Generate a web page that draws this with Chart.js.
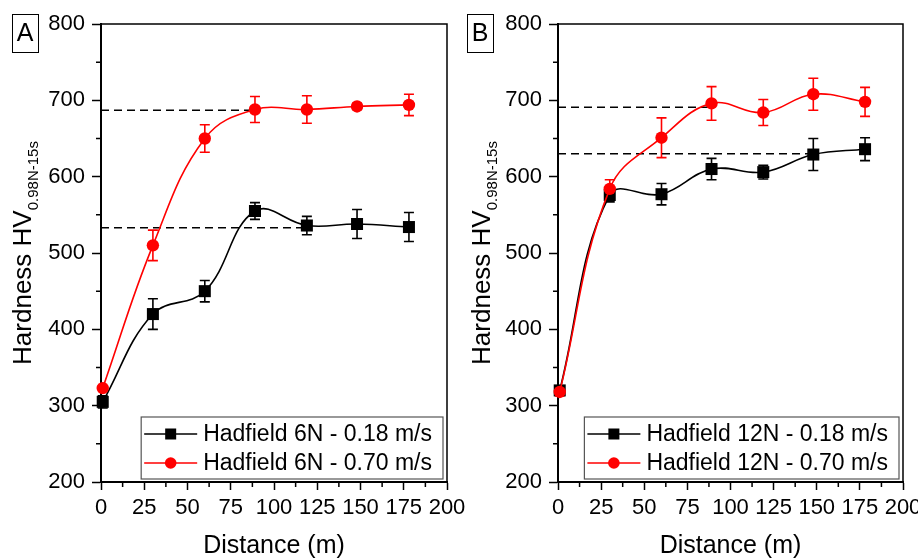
<!DOCTYPE html>
<html>
<head>
<meta charset="utf-8">
<script src="https://cdn.jsdelivr.net/npm/chart.js@4.4.1/dist/chart.umd.min.js"></script>
<style>
  html, body { margin:0; padding:0; background:#fff; overflow:hidden; }
  body { width:918px; height:560px; position:relative; }
</style>
</head>
<body>
<div id="wA" style="position:absolute;left:0;top:0;width:482px;height:560px;"><canvas id="cA"></canvas></div>
<div id="wB" style="position:absolute;left:459px;top:0;width:478px;height:560px;"><canvas id="cB"></canvas></div>
<script>
// ---------- DATA ----------
const distances = [1, 30, 60, 89, 119, 148, 178];

const labelsA = ["Hadfield 6N - 0.18 m/s", "Hadfield 6N - 0.70 m/s"];
const hardA_slow = [305, 420, 450, 555, 536, 538, 534];
const errA_slow  = [8, 20, 14, 11, 12, 19, 19];
const hardA_fast = [323, 510, 650, 688, 688, 692, 694];
const errA_fast  = [3, 20, 18, 17, 18, 4, 14];
const refA_levels = [533, 687];   // dashed lines: slow, fast
const refA_ends   = [118, 89];

const labelsB = ["Hadfield 12N - 0.18 m/s", "Hadfield 12N - 0.70 m/s"];
const hardB_slow = [320, 576, 577, 610, 606, 629, 636];
const errB_slow  = [5, 9, 14, 14, 9, 21, 15];
const hardB_fast = [318, 584, 651, 696, 684, 708, 698];
const errB_fast  = [5, 12, 26, 22, 17, 21, 19];
const refB_levels = [630, 691];
const refB_ends   = [148, 89];

const yTicks = [200, 300, 400, 500, 600, 700, 800];
const xTicks = [0, 25, 50, 75, 100, 125, 150, 175, 200];
const yTitleMain = "Hardness HV";
const yTitleSub = "0.98N-15s";
const xTitle = "Distance (m)";

// ---------- STYLE ----------
const FONT = "'Liberation Sans', Arial, sans-serif";
const COLORS = ['#000000', '#ff0000'];
const STYLES = ['rect', 'circle'];
const RADII = [8.5, 6.2];

const decor = {
  id: 'decor',
  beforeDatasetsDraw(chart, args, o) {
    const ctx = chart.ctx, xs = chart.scales.x, ys = chart.scales.y;
    ctx.save();
    o.series.forEach((s, k) => {
      ctx.strokeStyle = COLORS[k];
      ctx.lineWidth = 1.6;
      distances.forEach((d, i) => {
        const x = xs.getPixelForValue(d);
        const yt = ys.getPixelForValue(s.vals[i] + s.errs[i]);
        const yb = ys.getPixelForValue(s.vals[i] - s.errs[i]);
        ctx.beginPath();
        ctx.moveTo(x, yt); ctx.lineTo(x, yb);
        ctx.moveTo(x - 5, yt); ctx.lineTo(x + 5, yt);
        ctx.moveTo(x - 5, yb); ctx.lineTo(x + 5, yb);
        ctx.stroke();
      });
    });
    ctx.restore();
  },
  afterDraw(chart, args, o) {
    const ctx = chart.ctx, ca = chart.chartArea, xs = chart.scales.x, ys = chart.scales.y;
    ctx.save();
    // frame top/right
    ctx.strokeStyle = '#000'; ctx.lineWidth = 1.5;
    ctx.beginPath();
    ctx.moveTo(ca.left, ca.top); ctx.lineTo(ca.right, ca.top); ctx.lineTo(ca.right, ca.bottom);
    ctx.stroke();
    // minor ticks
    ctx.lineWidth = 1.5;
    ctx.beginPath();
    for (let i = 0; i < yTicks.length - 1; i++) {
      const y = ys.getPixelForValue((yTicks[i] + yTicks[i+1]) / 2);
      ctx.moveTo(ca.left - 5, y); ctx.lineTo(ca.left, y);
    }
    for (let i = 0; i < xTicks.length - 1; i++) {
      const x = xs.getPixelForValue((xTicks[i] + xTicks[i+1]) / 2);
      ctx.moveTo(x, ca.bottom); ctx.lineTo(x, ca.bottom + 5);
    }
    ctx.stroke();
    // y title with subscript
    ctx.fillStyle = '#000';
    ctx.save();
    ctx.translate(o.yTitleX, (ca.top + ca.bottom) / 2);
    ctx.rotate(-Math.PI / 2);
    ctx.font = '26px ' + FONT;
    const wMain = ctx.measureText(yTitleMain).width;
    ctx.font = '15px ' + FONT;
    const wSub = ctx.measureText(yTitleSub).width;
    const start = -(wMain + wSub) / 2;
    ctx.textBaseline = 'alphabetic';
    ctx.textAlign = 'left';
    ctx.font = '26px ' + FONT;
    ctx.fillText(yTitleMain, start, 9);
    ctx.font = '15px ' + FONT;
    ctx.fillText(yTitleSub, start + wMain, 16);
    ctx.restore();
    // x title
    ctx.font = '25px ' + FONT;
    ctx.textAlign = 'center'; ctx.textBaseline = 'middle';
    ctx.fillText(xTitle, (ca.left + ca.right) / 2, 546);
    // panel letter
    ctx.font = '25px ' + FONT;
    ctx.textAlign = 'center';
    ctx.fillText(o.letter, o.letterX + 13, 34);
    ctx.lineWidth = 1; ctx.strokeStyle = '#000';
    ctx.strokeRect(o.letterX + 0.5, 14.5, 26, 38);
    // legend
    ctx.font = '23px ' + FONT;
    const tw = Math.max(...o.labels.map(t => ctx.measureText(t).width));
    const right = ca.right - 4;
    const textStart = right - 11 - tw;
    const lineStart = textStart - 59, lineEnd = textStart - 6;
    const left = lineStart - 3;
    const top = ca.bottom - 65, bottom = ca.bottom - 3;
    ctx.strokeStyle = '#555'; ctx.lineWidth = 1.2;
    ctx.strokeRect(left, top, right - left, bottom - top);
    const rows = [top + 17, top + 46];
    o.labels.forEach((t, k) => {
      const y = rows[k];
      ctx.strokeStyle = COLORS[k]; ctx.lineWidth = 1.6;
      ctx.beginPath(); ctx.moveTo(lineStart, y); ctx.lineTo(lineEnd, y); ctx.stroke();
      ctx.fillStyle = COLORS[k];
      const cx = (lineStart + lineEnd) / 2;
      if (k === 0) ctx.fillRect(cx - 5.5, y - 5.5, 11, 11);
      else { ctx.beginPath(); ctx.arc(cx, y, 5.8, 0, Math.PI * 2); ctx.fill(); }
      ctx.fillStyle = '#000';
      ctx.textAlign = 'left'; ctx.textBaseline = 'middle';
      ctx.fillText(t, textStart, y + 1);
    });
    ctx.restore();
  }
};

function makeChart(id, slow, eslow, fast, efast, refLevels, refEnds, labels, opts) {
  const pts = arr => distances.map((d, i) => ({x: d, y: arr[i]}));
  const ds = [];
  refLevels.forEach((lv, k) => {
    ds.push({
      data: [{x: 0, y: lv}, {x: refEnds[k], y: lv}],
      borderColor: '#000', borderWidth: 1.5, borderDash: [8, 5],
      pointRadius: 0, tension: 0, order: 5
    });
  });
  [slow, fast].forEach((arr, k) => {
    ds.push({
      data: pts(arr),
      borderColor: COLORS[k], backgroundColor: COLORS[k],
      borderWidth: 1.6, tension: 0.4,
      pointStyle: STYLES[k], pointRadius: RADII[k], pointBorderWidth: 0,
      pointBackgroundColor: COLORS[k], clip: false, order: 2 - k
    });
  });
  return new Chart(document.getElementById(id), {
    type: 'line',
    data: { datasets: ds },
    plugins: [decor],
    options: {
      responsive: true, maintainAspectRatio: false, animation: false,
      layout: { padding: { left: 0, right: opts.padRight, top: 24, bottom: 0 } },
      plugins: {
        legend: { display: false }, tooltip: { enabled: false },
        decor: {
          letter: opts.letter, letterX: opts.letterX, yTitleX: 22, labels,
          series: [{vals: slow, errs: eslow}, {vals: fast, errs: efast}]
        }
      },
      scales: {
        x: {
          type: 'linear', min: 0, max: 200,
          afterBuildTicks: s => { s.ticks = xTicks.map(v => ({value: v})); },
          afterFit: s => { s.height = 78; },
          grid: { drawOnChartArea: false, tickLength: 8, tickWidth: 1.5, tickColor: '#000' },
          border: { color: '#000', width: 2 },
          ticks: { color: '#000', font: { family: FONT, size: 22 }, padding: 5, maxRotation: 0, autoSkip: false }
        },
        y: {
          type: 'linear', min: 200, max: 800,
          afterBuildTicks: s => { s.ticks = yTicks.map(v => ({value: v})); },
          afterFit: s => { s.width = opts.yWidth; },
          grid: { drawOnChartArea: false, tickLength: 9, tickWidth: 1.5, tickColor: '#000' },
          border: { color: '#000', width: 2 },
          ticks: { color: '#000', font: { family: FONT, size: 22 }, padding: 7 }
        }
      }
    }
  });
}

makeChart('cA', hardA_slow, errA_slow, hardA_fast, errA_fast, refA_levels, refA_ends, labelsA,
  { letter: 'A', letterX: 12, yWidth: 101, padRight: 35 });
makeChart('cB', hardB_slow, errB_slow, hardB_fast, errB_fast, refB_levels, refB_ends, labelsB,
  { letter: 'B', letterX: 8, yWidth: 99, padRight: 34 });
</script>
</body>
</html>
